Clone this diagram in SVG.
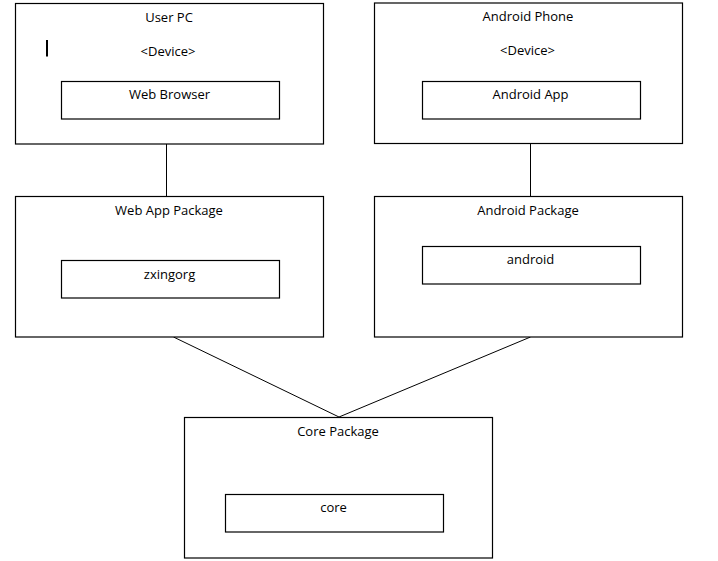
<svg xmlns="http://www.w3.org/2000/svg" width="718" height="561" viewBox="0 0 718 561">
<style>
.box{fill:#fff;stroke:#000;stroke-width:1.2}
.lbl{font-family:"Open Sans","Noto Sans",sans-serif;font-size:13px;fill:#000;text-anchor:middle}
.con{stroke:#000;stroke-width:1;fill:none}
</style>
<rect width="718" height="561" fill="#fff"/>
<g id="connectors">
<line class="con" x1="166.5" y1="144" x2="166.5" y2="196"/>
<line class="con" x1="530.5" y1="144" x2="530.5" y2="196"/>
<line class="con" x1="173.5" y1="337" x2="339" y2="417"/>
<line class="con" x1="530.5" y1="337" x2="339" y2="417"/>
</g>
<g id="user-pc">
<rect class="box" x="15.5" y="3.5" width="308" height="140.5"/>
<text class="lbl" x="169" y="21.5">User PC</text>
<text class="lbl" x="168" y="55.5">&lt;Device&gt;</text>
<rect x="46" y="40" width="2" height="16.5" fill="#000"/>
</g>
<g id="web-browser">
<rect class="box" x="61.5" y="81.5" width="218" height="37.5"/>
<text class="lbl" x="169.5" y="99">Web Browser</text>
</g>
<g id="android-phone">
<rect class="box" x="374.5" y="3" width="308" height="140.5"/>
<text class="lbl" x="528" y="21">Android Phone</text>
<text class="lbl" x="527.5" y="54.5">&lt;Device&gt;</text>
</g>
<g id="android-app">
<rect class="box" x="422.5" y="81.5" width="218" height="37.5"/>
<text class="lbl" x="530.5" y="99">Android App</text>
</g>
<g id="web-app-package">
<rect class="box" x="15.5" y="196.5" width="308" height="140.5"/>
<text class="lbl" x="169" y="214.5">Web App Package</text>
</g>
<g id="zxingorg">
<rect class="box" x="61.5" y="260.5" width="218" height="37.5"/>
<text class="lbl" x="169.5" y="278.5">zxingorg</text>
</g>
<g id="android-package">
<rect class="box" x="374.5" y="196.5" width="308" height="140.5"/>
<text class="lbl" x="528" y="215">Android Package</text>
</g>
<g id="android">
<rect class="box" x="422.5" y="246.5" width="218" height="37.5"/>
<text class="lbl" x="530.5" y="263.5">android</text>
</g>
<g id="core-package">
<rect class="box" x="184.5" y="417.5" width="308" height="140.5"/>
<text class="lbl" x="338" y="436">Core Package</text>
</g>
<g id="core">
<rect class="box" x="225.5" y="494.5" width="218" height="37.5"/>
<text class="lbl" x="333.5" y="512">core</text>
</g>
</svg>
